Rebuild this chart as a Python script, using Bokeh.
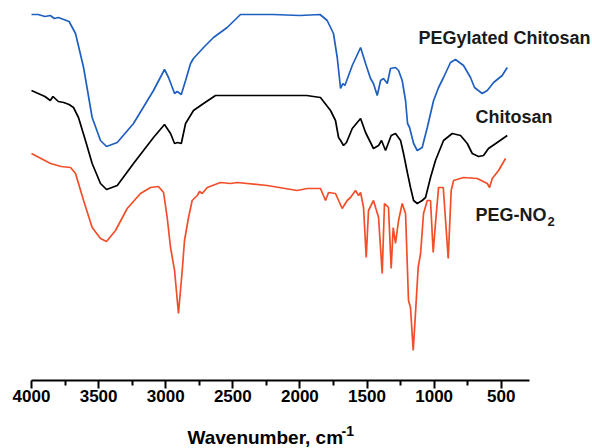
from bokeh.plotting import figure
from bokeh.models import Range1d, FixedTicker
from bokeh.core.properties import value
from bokeh.embed import file_html
from bokeh.resources import INLINE

# ---- data (transmittance, offset arbitrary units) ----
peg_chit_wn = [4000, 3950, 3900, 3860, 3830, 3800, 3760, 3720, 3672, 3612, 3548, 3486, 3441, 3361,
               3240, 3091, 3009, 2979, 2934, 2914, 2884, 2852, 2815, 2793, 2718, 2644, 2542, 2443,
               2200, 2000, 1850, 1797, 1750, 1722, 1697, 1680, 1665, 1610, 1548, 1511, 1474, 1452,
               1424, 1399, 1377, 1349, 1325, 1288, 1265, 1238, 1213, 1198, 1183, 1153, 1126, 1089,
               1051, 1004, 967, 930, 878, 841, 781, 729, 699, 642, 604, 557, 493, 455]
peg_chit_t = [366, 366, 364, 365, 362, 363, 361, 359, 347, 313, 263, 240, 234, 238,
              257, 290, 311, 303, 287, 289, 286, 300, 317, 322, 333, 343, 353, 366,
              366, 365, 366, 360, 347, 323, 292, 297, 295, 315, 333, 317, 302, 297,
              285, 300, 302, 297, 312, 313, 310, 300, 280, 257, 253, 237, 230, 233,
              253, 280, 293, 303, 318, 321, 315, 303, 293, 287, 290, 298, 305, 313]

chit_wn = [4000, 3950, 3900, 3860, 3840, 3800, 3760, 3720, 3687, 3650, 3598, 3548, 3486, 3441,
           3361, 3240, 3091, 3009, 2964, 2934, 2912, 2884, 2852, 2793, 2718, 2629, 2400, 2200,
           1950, 1847, 1772, 1735, 1712, 1697, 1675, 1653, 1610, 1573, 1548, 1511, 1474, 1452,
           1414, 1392, 1362, 1320, 1288, 1250, 1228, 1198, 1176, 1153, 1126, 1089, 1064, 1027,
           990, 930, 865, 803, 753, 716, 669, 632, 595, 530, 455]
chit_t = [290, 287, 284, 280, 284, 279, 278, 276, 273, 263, 240, 217, 197, 191,
          195, 217, 243, 256, 247, 237, 238, 237, 257, 270, 277, 285, 285, 285,
          285, 283, 270, 260, 243, 240, 235, 238, 252, 258, 262, 248, 238, 232,
          235, 240, 230, 245, 247, 240, 227, 207, 193, 180, 177, 180, 183, 203,
          220, 240, 247, 245, 237, 227, 224, 225, 232, 238, 245]

pegno2_wn = [4000, 3858, 3780, 3709, 3672, 3612, 3548, 3486, 3441, 3374, 3287, 3188, 3113, 3054,
             3016, 2989, 2964, 2934, 2905, 2877, 2860, 2830, 2803, 2765, 2748, 2728, 2691, 2592,
             2517, 2467, 2244, 2020, 1946, 1847, 1809, 1787, 1735, 1685, 1648, 1623, 1586, 1563,
             1548, 1526, 1506, 1489, 1452, 1414, 1387, 1370, 1340, 1320, 1305, 1288, 1265, 1238,
             1213, 1191, 1176, 1156, 1139, 1119, 1101, 1079, 1051, 1027, 1007, 990, 967, 932,
             895, 873, 855, 781, 679, 604, 587, 567, 520, 468]
pegno2_t = [227, 217, 214, 213, 207, 180, 153, 142, 139, 150, 172, 187, 193, 194,
            188, 163, 133, 110, 67, 110, 140, 163, 180, 185, 189, 187, 193, 198,
            197, 198, 195, 190, 192, 192, 180, 188, 187, 172, 180, 183, 190, 185,
            188, 173, 123, 170, 180, 163, 107, 177, 173, 112, 153, 137, 160, 177,
            167, 80, 73, 30, 67, 113, 127, 167, 180, 180, 128, 157, 193, 193,
            122, 190, 200, 203, 202, 197, 193, 202, 210, 222]

major_ticks = [500, 1000, 1500, 2000, 2500, 3000, 3500, 4000]
minor_ticks = [750, 1250, 1750, 2250, 2750, 3250, 3750]

series_names = ["PEGylated Chitosan", "Chitosan", "PEG-NO"]
colors = ["#1f5fbf", "#000000", "#f24e2a"]

p = figure(width=592, height=448, output_backend="svg", toolbar_location=None,
           x_range=Range1d(4231, -180), y_range=Range1d(-68, 380),
           y_axis_location=None, min_border_left=0, min_border_right=0,
           min_border_top=0, min_border_bottom=0)
p.outline_line_color = None
p.grid.visible = False
p.background_fill_color = "white"
p.border_fill_color = "white"

p.line(peg_chit_wn, peg_chit_t, line_color=colors[0], line_width=1.7)
p.line(chit_wn, chit_t, line_color=colors[1], line_width=1.7)
p.line(pegno2_wn, pegno2_t, line_color=colors[2], line_width=1.7)

font = value("Liberation Sans")
p.text(x=[1116, 692, 692], y=[343, 264, 166], text=series_names,
       text_font=font, text_font_style="bold", text_font_size="18px",
       text_color="#1a1a1a", text_align="left", text_baseline="middle")
p.text(x=[155], y=[159], text=["2"], text_font=font, text_font_style="bold",
       text_font_size="13px", text_color="#1a1a1a", text_align="left",
       text_baseline="middle")

# axis title (drawn as text below the axis line)
p.text(x=[2838], y=[-57], text=["Wavenumber, cm"], text_font=font,
       text_font_style="bold", text_font_size="19px", text_color="black",
       text_align="left", text_baseline="middle")
p.text(x=[1690], y=[-50], text=["-1"], text_font=font,
       text_font_style="bold", text_font_size="14px", text_color="black",
       text_align="left", text_baseline="middle")

ax = p.xaxis[0]
ax.fixed_location = 0
ax.bounds = (290, 4000)
ax.ticker = FixedTicker(ticks=major_ticks, minor_ticks=minor_ticks)
ax.axis_line_width = 2
ax.axis_line_color = "black"
ax.major_tick_line_width = 2
ax.minor_tick_line_width = 2
ax.major_tick_out = 8
ax.major_tick_in = 0
ax.minor_tick_out = 5
ax.minor_tick_in = 0
ax.major_label_text_font = "Liberation Sans"
ax.major_label_text_font_style = "bold"
ax.major_label_text_font_size = "17px"
ax.major_label_text_color = "black"
ax.major_label_standoff = 1

open("out.html", "w").write(file_html(p, INLINE))
